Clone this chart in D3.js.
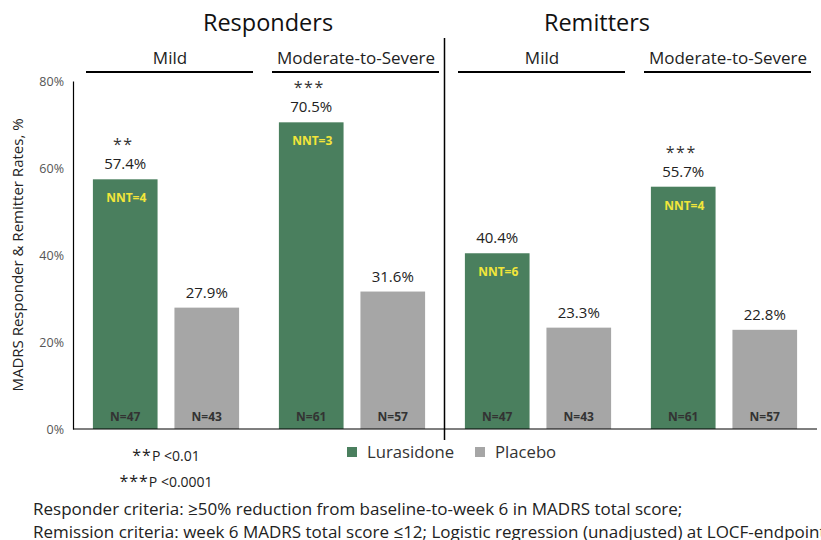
<!DOCTYPE html>
<html><head><meta charset="utf-8">
<script src="https://cdn.jsdelivr.net/npm/d3@7"></script>
<style>body{margin:0;background:#fff}svg{display:block}</style>
</head><body>
<script>
const outcomes = ["Responders", "Remitters"];
const severities = ["Mild", "Moderate-to-Severe"];
const categories = ["Responders|Mild", "Responders|Moderate-to-Severe", "Remitters|Mild", "Remitters|Moderate-to-Severe"];
const seriesNames = ["Lurasidone", "Placebo"];
const lurasidone = [57.4, 70.5, 40.4, 55.7];
const placebo = [27.9, 31.6, 23.3, 22.8];
const nLurasidone = [47, 61, 47, 61];
const nPlacebo = [43, 57, 43, 57];
const nnt = [4, 3, 6, 4];
const stars = ["**", "***", "", "***"];
const yTicks = [0, 20, 40, 60, 80];
const footnoteStars = ["**", "***"];
const footnoteText = ["P <0.01", "P <0.0001"];
const criteria = ["Responder criteria: \u226550% reduction from baseline-to-week 6 in MADRS total score;",
  "Remission criteria: week 6 MADRS total score \u226412; Logistic regression (unadjusted) at LOCF-endpoint"];

const W = 821, H = 540;
const font = "'Open Sans', sans-serif";
const colors = {Lurasidone: "#4a7f5e", Placebo: "#a6a6a6"};
const svg = d3.select("body").append("svg").attr("width", W).attr("height", H)
  .style("font-family", font);

const x0 = d3.scaleBand().domain(categories).range([73, 817]).padding(0);
const x1 = d3.scaleBand().domain(seriesNames).range([0, x0.bandwidth()])
  .paddingInner(0.207).paddingOuter(0.244);
const y = d3.scaleLinear().domain([0, 80]).range([429, 81]);

// y axis
const yAxis = svg.append("g").attr("transform", "translate(73,0)")
  .call(d3.axisLeft(y).tickValues(yTicks).tickSize(0).tickPadding(9).tickFormat(d => d + "%"));
yAxis.select(".domain").attr("stroke", "#000").attr("stroke-width", 1.2);
yAxis.selectAll("text").attr("font-family", font).attr("font-size", 12.5).attr("fill", "#555");

svg.append("text").attr("transform", `translate(23,255) rotate(-90)`)
  .attr("text-anchor", "middle").attr("font-size", 15).attr("fill", "#222")
  .text("MADRS Responder & Remitter Rates, %");

// bars
const data = categories.map((c, i) => ({
  cat: c, i,
  vals: [
    {s: "Lurasidone", v: lurasidone[i], n: nLurasidone[i]},
    {s: "Placebo", v: placebo[i], n: nPlacebo[i]}
  ]
}));

const g = svg.selectAll("g.cat").data(data).join("g").attr("class", "cat")
  .attr("transform", d => `translate(${x0(d.cat)},0)`);

g.selectAll("rect").data(d => d.vals).join("rect")
  .attr("x", d => x1(d.s)).attr("width", x1.bandwidth())
  .attr("y", d => y(d.v)).attr("height", d => y(0) - y(d.v))
  .attr("fill", d => colors[d.s]);

g.selectAll("text.val").data(d => d.vals).join("text").attr("class", "val")
  .attr("x", d => x1(d.s) + x1.bandwidth() / 2).attr("y", d => y(d.v) - 10)
  .attr("text-anchor", "middle").attr("font-size", 15).attr("fill", "#222")
  .text(d => d.v.toFixed(1) + "%");

g.selectAll("text.n").data(d => d.vals).join("text").attr("class", "n")
  .attr("x", d => x1(d.s) + x1.bandwidth() / 2).attr("y", y(0) - 8)
  .attr("text-anchor", "middle").attr("font-size", 12).attr("font-weight", "bold").attr("fill", "#333")
  .text(d => "N=" + d.n);

g.append("text")
  .attr("x", x1("Lurasidone") + x1.bandwidth() / 2 + 1).attr("y", d => y(lurasidone[d.i]) + 23)
  .attr("text-anchor", "middle").attr("font-size", 12).attr("font-weight", "bold").attr("fill", "#f2e63a")
  .text(d => "NNT=" + nnt[d.i]);

g.append("text")
  .attr("x", x1("Lurasidone") + x1.bandwidth() / 2 - 2).attr("y", d => y(lurasidone[d.i]) - 29)
  .attr("text-anchor", "middle").attr("font-size", 16).attr("fill", "#333").attr("letter-spacing", 1.5)
  .text(d => stars[d.i]);

// x axis line
svg.append("line").attr("x1", 73).attr("x2", 817).attr("y1", y(0)).attr("y2", y(0))
  .attr("stroke", "#000").attr("stroke-width", 1.2);

// divider
svg.append("line").attr("x1", x0(categories[2]) - 0.5).attr("x2", x0(categories[2]) - 0.5)
  .attr("y1", 38).attr("y2", 440).attr("stroke", "#000").attr("stroke-width", 1.5);

// headers
categories.forEach((c, i) => {
  const sev = c.split("|")[1];
  const xs = x0(c);
  svg.append("line").attr("x1", xs + 13).attr("x2", xs + x0.bandwidth() - 6)
    .attr("y1", 72).attr("y2", 72).attr("stroke", "#000").attr("stroke-width", 2);
  svg.append("text").attr("x", xs + x0.bandwidth() / 2 + 4).attr("y", 64)
    .attr("text-anchor", "middle").attr("font-size", 17).attr("fill", "#222").text(sev);
});
const titleX = [268, 597];
outcomes.forEach((o, i) => {
  svg.append("text").attr("x", titleX[i]).attr("y", 31).attr("text-anchor", "middle")
    .attr("font-size", 23.5).attr("fill", "#111").text(o);
});

// legend
const leg = svg.append("g");
const legX = [347, 475];
seriesNames.forEach((s, i) => {
  leg.append("rect").attr("x", legX[i]).attr("y", 447).attr("width", 10).attr("height", 10).attr("fill", colors[s]);
  leg.append("text").attr("x", legX[i] + 20).attr("y", 458).attr("font-size", 16.7).attr("fill", "#333").text(s);
});

// footnotes
footnoteStars.forEach((f, i) => {
  const t = svg.append("text").attr("x", 166 + i * 0).attr("y", 461 + i * 26).attr("text-anchor", "middle")
    .attr("fill", "#222");
  t.append("tspan").attr("font-size", 16).attr("letter-spacing", 1).text(f);
  t.append("tspan").attr("font-size", 14).text(footnoteText[i]);
});
criteria.forEach((t, i) => {
  svg.append("text").attr("x", 33).attr("y", 515 + i * 23)
    .attr("font-size", 17).attr("fill", "#222").text(t);
});
</script>
</body></html>
